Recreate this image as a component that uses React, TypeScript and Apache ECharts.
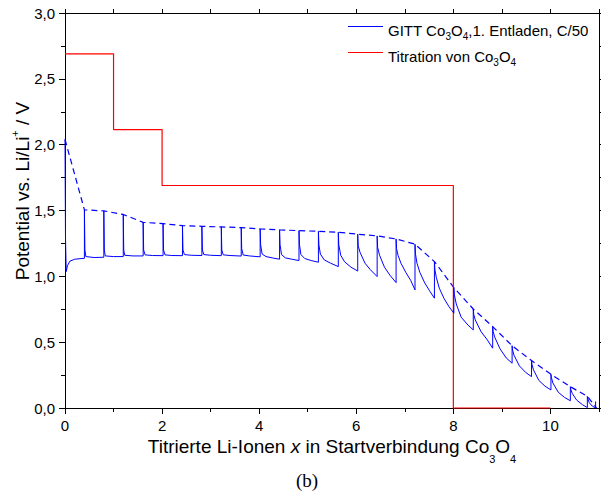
import React, { useEffect, useRef } from 'react';
import * as echarts from 'echarts';

const FONT = '"Liberation Sans", Arial, sans-serif';
const SERIF = '"Liberation Serif", "Times New Roman", serif';

// x-axis label values, y-axis range
const xLabelValues = [0, 2, 4, 6, 8, 10];
const yTickStep = 0.5;

// GITT discharge curve (x, potential in V)
const gittPoints: number[][] = [
  [0, 2.04], [0.01, 1.3], [0.025, 1.036], [0.05, 1.08], [0.1, 1.115], [0.2, 1.13], [0.4, 1.137],
  [0.4, 1.505], [0.41, 1.2], [0.43, 1.15], [0.6, 1.143], [0.8, 1.145],
  [0.8, 1.497], [0.81, 1.2], [0.83, 1.155], [1.0, 1.15], [1.2, 1.15],
  [1.2, 1.47], [1.21, 1.2], [1.23, 1.16], [1.4, 1.155], [1.61, 1.155],
  [1.61, 1.41], [1.62, 1.2], [1.65, 1.163], [1.8, 1.158], [2.02, 1.157],
  [2.02, 1.4], [2.03, 1.2], [2.06, 1.163], [2.2, 1.158], [2.42, 1.157],
  [2.42, 1.385], [2.43, 1.2], [2.46, 1.165], [2.6, 1.16], [2.82, 1.158],
  [2.82, 1.38], [2.83, 1.2], [2.86, 1.165], [3.0, 1.16], [3.22, 1.157],
  [3.22, 1.375], [3.23, 1.2], [3.26, 1.163], [3.4, 1.158], [3.63, 1.154],
  [3.63, 1.37], [3.64, 1.21], [3.67, 1.162], [3.8, 1.155], [4.02, 1.148],
  [4.02, 1.36], [4.03, 1.24], [4.06, 1.17], [4.14, 1.15], [4.27, 1.14], [4.42, 1.13],
  [4.42, 1.353], [4.43, 1.24], [4.46, 1.165], [4.54, 1.14], [4.67, 1.13], [4.82, 1.12],
  [4.82, 1.347], [4.83, 1.24], [4.86, 1.165], [4.94, 1.135], [5.07, 1.12], [5.22, 1.107],
  [5.22, 1.342], [5.23, 1.24], [5.26, 1.17], [5.34, 1.125], [5.47, 1.1], [5.63, 1.074],
  [5.63, 1.335], [5.64, 1.24], [5.68, 1.16], [5.76, 1.11], [5.89, 1.07], [6.03, 1.04],
  [6.03, 1.32], [6.04, 1.23], [6.08, 1.18], [6.18, 1.1], [6.29, 1.05], [6.43, 0.998],
  [6.43, 1.307], [6.44, 1.22], [6.48, 1.16], [6.58, 1.07], [6.69, 1.01], [6.82, 0.952],
  [6.82, 1.284], [6.83, 1.21], [6.86, 1.16], [6.92, 1.1], [7.02, 1.03], [7.12, 0.97], [7.21, 0.897],
  [7.21, 1.244], [7.22, 1.17], [7.25, 1.1], [7.31, 1.03], [7.41, 0.95], [7.51, 0.89], [7.61, 0.834],
  [7.61, 1.112], [7.62, 1.05], [7.65, 0.99], [7.71, 0.91], [7.81, 0.83], [7.91, 0.77], [8.01, 0.72],
  [8.01, 0.914], [8.02, 0.86], [8.06, 0.79], [8.16, 0.69], [8.3, 0.63], [8.41, 0.593],
  [8.41, 0.752], [8.42, 0.71], [8.45, 0.67], [8.57, 0.58], [8.7, 0.517], [8.81, 0.454],
  [8.81, 0.618], [8.82, 0.58], [8.85, 0.54], [8.96, 0.45], [9.09, 0.38], [9.21, 0.34],
  [9.21, 0.473], [9.22, 0.44], [9.25, 0.4], [9.36, 0.32], [9.49, 0.27], [9.61, 0.238],
  [9.61, 0.36], [9.62, 0.33], [9.65, 0.29], [9.76, 0.21], [9.89, 0.165], [10.01, 0.137],
  [10.01, 0.256], [10.02, 0.23], [10.05, 0.19], [10.16, 0.12], [10.29, 0.08], [10.41, 0.055],
  [10.41, 0.162], [10.42, 0.14], [10.45, 0.11], [10.54, 0.06], [10.66, 0.025], [10.76, 0.003],
  [10.76, 0.088], [10.77, 0.07], [10.8, 0.04], [10.86, 0.015], [10.93, 0.0], [10.93, 0.05],
];

// relaxed (open-circuit) potentials, dashed line
const ocvX = [0, 0.4, 0.8, 1.2, 1.61, 2.02, 2.42, 2.82, 3.22, 3.63, 4.02, 4.42, 4.82, 5.22, 5.63, 6.03, 6.43, 6.82, 7.21, 7.61, 8.01, 8.41, 8.81, 9.21, 9.61, 10.01, 10.41, 10.76, 10.95];
const ocvV = [2.04, 1.505, 1.497, 1.47, 1.41, 1.4, 1.385, 1.38, 1.375, 1.37, 1.36, 1.353, 1.347, 1.342, 1.335, 1.32, 1.307, 1.284, 1.244, 1.112, 0.914, 0.752, 0.618, 0.473, 0.36, 0.256, 0.162, 0.088, 0.0];

// titration steps
const titrX = [0, 1, 1, 2, 2, 8, 8, 10];
const titrV = [2.69, 2.69, 2.115, 2.115, 1.69, 1.69, 0, 0];

const legendNames = ['GITT Co3O4,1. Entladen, C/50', 'Titration von Co3O4'];

export default function App() {
  const ref = useRef<HTMLDivElement>(null);
  useEffect(() => {
    if (!ref.current) return;
    const chart = echarts.init(ref.current, null, { renderer: 'svg' });
    const ocvData = ocvX.map((x, i) => [x, ocvV[i]]);
    const titrData = titrX.map((x, i) => [x, titrV[i]]);
    const black = '#000';
    const tickStyle = { color: black, width: 1 };
    const baseX = {
      type: 'value', min: 0, max: 11, splitLine: { show: false },
      axisLine: { show: true, onZero: false, lineStyle: { color: black, width: 1 } },
    };
    const baseY = {
      type: 'value', min: 0, max: 3, interval: yTickStep, splitLine: { show: false },
      axisLine: { show: true, onZero: false, lineStyle: { color: black, width: 1 } },
      axisTick: { show: true, inside: false, length: 6, lineStyle: tickStyle },
      minorTick: { show: true, splitNumber: 2, length: 4, lineStyle: tickStyle },
    };
    const subN = { fontSize: 19, fontFamily: FONT, color: black };
    const option: any = {
      animation: false,
      grid: { left: 65, right: 2, top: 13, bottom: 91, containLabel: false },
      xAxis: [
        {
          ...baseX, position: 'bottom', interval: 2,
          axisTick: { show: true, inside: false, length: 6, lineStyle: tickStyle },
          axisLabel: {
            show: true, margin: 10, fontSize: 15, fontFamily: FONT, color: black,
            showMaxLabel: false,
            formatter: (v: number) => (xLabelValues.includes(v) ? String(v) : ''),
          },
        },
        {
          ...baseX, position: 'bottom', interval: 1,
          axisLine: { show: false },
          axisTick: { show: true, inside: false, length: 4, lineStyle: tickStyle },
          axisLabel: { show: false },
        },
        {
          ...baseX, position: 'top', interval: 1,
          axisTick: { show: true, inside: false, length: 4, lineStyle: tickStyle },
          axisLabel: { show: false },
        },
      ],
      yAxis: [
        {
          ...baseY, position: 'left',
          axisLabel: {
            show: true, margin: 10, fontSize: 15, fontFamily: FONT, color: black,
            formatter: (v: number) => v.toFixed(1).replace('.', ','),
          },
        },
        { ...baseY, position: 'right', axisLabel: { show: false } },
      ],
      series: [
        {
          type: 'line', name: legendNames[0], data: gittPoints, symbol: 'none', showSymbol: false,
          lineStyle: { color: '#0000ff', width: 1 }, clip: false, z: 4, silent: true,
        },
        {
          type: 'line', name: 'OCV', data: ocvData, symbol: 'none', showSymbol: false,
          lineStyle: { color: '#0000ff', width: 1.2, type: [6, 4] }, clip: false, z: 3, silent: true,
        },
        {
          type: 'line', name: legendNames[1], data: titrData, symbol: 'none', showSymbol: false,
          lineStyle: { color: '#ff0000', width: 1.2 }, clip: false, z: 3, silent: true,
        },
      ],
      graphic: [
        { type: 'line', shape: { x1: 348, y1: 26.5, x2: 383, y2: 26.5 }, style: { stroke: '#0000ff', lineWidth: 1 } },
        {
          type: 'text', x: 388, y: 30,
          style: {
            text: '{n|GITT Co}{s|3}{n|O}{s|4}{n|,1. Entladen, C/50}',
            align: 'left', verticalAlign: 'middle',
            rich: {
              n: { fontSize: 15, fontFamily: FONT, fill: black },
              s: { fontSize: 10, fontFamily: FONT, fill: black, padding: [13, 0, 0, 0] },
            },
          },
        },
        { type: 'line', shape: { x1: 348, y1: 52.5, x2: 383, y2: 52.5 }, style: { stroke: '#ff0000', lineWidth: 1 } },
        {
          type: 'text', x: 388, y: 56,
          style: {
            text: '{n|Titration von Co}{s|3}{n|O}{s|4}',
            align: 'left', verticalAlign: 'middle',
            rich: {
              n: { fontSize: 15, fontFamily: FONT, fill: black },
              s: { fontSize: 10, fontFamily: FONT, fill: black, padding: [13, 0, 0, 0] },
            },
          },
        },
        {
          type: 'text', x: 332, y: 446,
          style: {
            text: '{n|Titrierte Li-Ionen }{i|x}{n| in Startverbindung Co}{s|3}{n|O}{s|4}',
            align: 'center', verticalAlign: 'middle',
            rich: {
              n: { fontSize: 19, fontFamily: FONT, fill: black },
              i: { fontSize: 19, fontFamily: FONT, fontStyle: 'italic', fill: black },
              s: { fontSize: 11, fontFamily: FONT, fill: black, padding: [26, 0, 0, 0] },
            },
          },
        },
        {
          type: 'text', x: 22, y: 191, rotation: Math.PI / 2,
          style: {
            text: '{n|Potential vs. Li/Li}{p|+}{n| / V}',
            align: 'center', verticalAlign: 'middle',
            rich: {
              n: { fontSize: 19, fontFamily: FONT, fill: black },
              p: { fontSize: 11, fontFamily: FONT, fill: black, padding: [0, 0, 14, 0] },
            },
          },
        },
        {
          type: 'text', x: 307, y: 480,
          style: { text: '(b)', fontSize: 19, fontFamily: SERIF, fill: black, align: 'center', verticalAlign: 'middle' },
        },
      ],
    };
    chart.setOption(option);
    return () => chart.dispose();
  }, []);
  return <div ref={ref} style={{ position: 'absolute', left: 0, top: 0, width: 601, height: 499, background: '#fff' }} />;
}
